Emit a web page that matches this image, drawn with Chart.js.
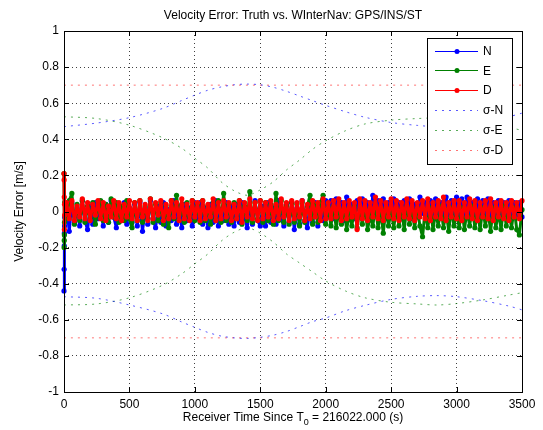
<!DOCTYPE html>
<html>
<head>
<meta charset="utf-8">
<script src="https://cdn.jsdelivr.net/npm/chart.js@4.4.1/dist/chart.umd.min.js"></script>
<style>
  html, body { margin: 0; padding: 0; background: #fff; }
</style>
</head>
<body>
<canvas id="grafico" width="543" height="430"></canvas>
<script>
// ---- dati ----
var titolo = 'Velocity Error: Truth vs. WInterNav: GPS/INS/ST';
var titoloY = 'Velocity Error [m/s]';
var seriesNames = ['N', 'E', 'D', '\u03C3-N', '\u03C3-E', '\u03C3-D'];
var xTicks = [0, 500, 1000, 1500, 2000, 2500, 3000, 3500];
var yTicks = [-1, -0.8, -0.6, -0.4, -0.2, 0, 0.2, 0.4, 0.6, 0.8, 1];

// transient at start (t = 0..5 s)
var startTime = [0, 1, 2, 3, 4, 5];
var nStart = [-0.44, -0.32, -0.19, -0.12, -0.08, -0.03];
var eStart = [0.21, -0.2, -0.16, -0.13, -0.06, 0.05];
var dStart = [0.21, 0.175, 0.08, -0.1, 0.04, -0.02];

// main samples, one every 20 s from 20 to 3500
var sampleStep = 20;
var nMain = [
  0.04,-0.11,0.05,-0.06,0.02,-0.08,0.06,-0.05,-0.10,0.03,-0.07,0.05,-0.04,0.01,-0.08,0.04,-0.06,0.06,-0.03,-0.09,0.03,-0.05,0.05,-0.07,0.02,
  -0.06,0.04,-0.08,0.05,-0.11,0.02,-0.07,0.06,-0.04,-0.09,0.03,-0.06,0.05,-0.08,0.01,-0.05,0.06,-0.07,0.03,-0.09,0.04,-0.05,0.02,-0.08,0.05,
  -0.04,0.05,-0.07,0.02,-0.09,0.04,-0.06,0.06,-0.08,0.01,-0.05,0.05,-0.07,0.03,-0.08,0.04,-0.06,0.05,-0.03,-0.09,0.02,-0.07,0.06,-0.05,-0.08,
  0.03,-0.08,0.05,-0.06,0.02,-0.07,0.06,-0.04,-0.08,0.04,-0.06,0.05,-0.10,0.02,-0.07,0.06,-0.05,-0.09,0.04,-0.06,0.05,-0.08,0.03,-0.05,0.06,
  -0.03,0.06,-0.04,0.07,-0.02,0.05,-0.05,0.08,-0.01,0.04,-0.04,0.06,-0.03,0.07,-0.02,0.05,-0.04,0.09,0.00,0.06,-0.03,0.07,-0.04,0.05,-0.02,
  0.07,-0.03,0.05,-0.04,0.06,-0.02,0.07,-0.04,0.04,-0.03,0.08,-0.01,0.05,-0.04,0.06,-0.02,0.07,-0.03,0.05,-0.04,0.08,-0.02,0.06,-0.03,0.08,
  -0.02,0.07,-0.04,0.08,-0.01,0.05,-0.03,0.07,-0.04,0.06,-0.02,0.07,-0.03,0.05,-0.04,0.06,-0.02,0.05,-0.03,0.06,-0.04,0.05,-0.02,0.05,-0.03
];
var eMain = [
  -0.04,0.06,0.10,-0.07,0.04,-0.05,0.06,-0.06,0.03,-0.04,0.05,-0.07,0.02,0.06,-0.05,0.04,-0.06,0.07,-0.03,0.05,-0.06,0.03,-0.05,0.06,-0.04,
  -0.09,0.05,-0.05,0.06,-0.06,0.03,-0.04,0.07,-0.06,0.04,-0.05,0.05,-0.07,0.03,-0.09,0.06,-0.04,0.09,-0.05,0.04,-0.06,0.05,-0.03,0.06,-0.05,
  0.04,-0.06,0.06,-0.05,0.03,-0.07,0.05,-0.04,0.06,-0.06,0.10,-0.05,0.04,-0.06,0.05,-0.04,0.06,-0.07,0.03,-0.05,0.11,-0.06,0.05,-0.04,0.06,
  -0.06,0.05,-0.05,0.04,-0.07,0.10,-0.05,0.06,-0.06,0.03,-0.07,0.05,-0.06,0.04,-0.08,0.05,-0.06,0.03,0.09,-0.07,0.04,-0.06,0.05,0.09,-0.07,
  0.02,-0.08,0.03,-0.09,0.00,-0.07,0.02,-0.10,-0.01,-0.08,0.03,-0.09,0.01,-0.07,0.02,-0.10,-0.02,-0.08,0.03,-0.09,0.00,-0.12,0.02,-0.08,0.01,
  -0.09,0.02,-0.08,0.01,-0.10,0.03,-0.07,0.00,-0.09,0.02,-0.08,-0.14,0.01,-0.09,0.02,-0.10,0.00,-0.08,0.03,-0.09,0.01,-0.11,0.02,-0.08,0.00,
  -0.09,0.02,-0.10,0.01,-0.08,0.03,-0.09,0.00,-0.10,0.02,-0.08,0.01,-0.11,0.02,-0.09,0.00,-0.10,0.03,-0.08,0.01,-0.09,0.02,-0.10,-0.13,0.01
];
var dMain = [
  0.05,-0.04,0.06,-0.05,0.03,-0.03,0.07,-0.04,0.05,-0.05,0.04,-0.02,0.06,-0.04,0.05,-0.05,0.03,-0.03,0.06,-0.04,0.05,-0.05,0.04,-0.03,0.06,
  -0.04,0.05,-0.05,0.06,-0.03,0.04,-0.05,0.07,-0.04,0.05,-0.02,0.06,-0.05,0.04,-0.04,0.06,-0.03,0.05,-0.05,0.07,-0.04,0.04,-0.05,0.06,-0.03,
  0.05,-0.05,0.06,-0.04,0.04,-0.03,0.07,-0.05,0.05,-0.04,0.06,-0.03,0.05,-0.05,0.04,-0.04,0.06,-0.06,0.05,-0.03,0.07,-0.04,0.05,-0.05,0.06,
  -0.04,0.05,-0.03,0.06,-0.05,0.04,-0.04,0.07,-0.03,0.05,-0.05,0.06,-0.04,0.05,-0.03,0.06,-0.05,0.04,-0.04,0.06,-0.03,0.05,-0.05,0.07,-0.04,
  0.05,-0.04,0.06,-0.03,0.07,-0.05,0.05,-0.04,0.06,-0.03,0.05,-0.10,0.07,-0.04,0.06,-0.05,0.05,-0.03,0.08,-0.04,0.06,-0.05,0.05,-0.03,0.07,
  -0.04,0.06,-0.05,0.05,-0.03,0.07,-0.04,0.06,-0.05,0.05,-0.03,0.06,-0.04,0.07,-0.05,0.05,-0.03,0.06,-0.04,0.08,-0.05,0.05,-0.03,0.06,-0.04,
  0.06,-0.05,0.05,-0.03,0.07,-0.04,0.06,-0.05,0.05,-0.03,0.06,-0.04,0.07,-0.05,0.05,-0.03,0.06,-0.04,0.05,-0.05,0.06,-0.03,0.05,-0.04,0.06
];

// 1-sigma envelopes
var sigmaTime = [0, 250, 500, 750, 900, 1000, 1100, 1200, 1300, 1400, 1500, 1600, 1700, 1800, 1900, 2000, 2150, 2300, 2500, 2700, 2850, 3000, 3200, 3400, 3500];
var sigmaNUp  = [0.47, 0.49, 0.52, 0.57, 0.615, 0.645, 0.672, 0.69, 0.702, 0.706, 0.702, 0.688, 0.666, 0.64, 0.614, 0.588, 0.553, 0.522, 0.493, 0.477, 0.47, 0.472, 0.494, 0.525, 0.545];
var sigmaNLow = [-0.472, -0.481, -0.518, -0.566, -0.612, -0.642, -0.67, -0.69, -0.7, -0.703, -0.697, -0.685, -0.665, -0.638, -0.61, -0.59, -0.55, -0.52, -0.487, -0.47, -0.466, -0.472, -0.494, -0.524, -0.545];
var sigmaEUp  = [0.525, 0.515, 0.478, 0.41, 0.35, 0.295, 0.24, 0.165, 0.115, 0.09, 0.12, 0.165, 0.23, 0.285, 0.345, 0.392, 0.447, 0.485, 0.506, 0.515, 0.518, 0.51, 0.49, 0.465, 0.45];
var sigmaELow = [-0.518, -0.512, -0.478, -0.41, -0.345, -0.29, -0.235, -0.165, -0.115, -0.09, -0.12, -0.17, -0.235, -0.285, -0.335, -0.385, -0.44, -0.478, -0.503, -0.512, -0.518, -0.51, -0.49, -0.463, -0.45];
var sigmaDTime = [0, 3500];
var sigmaDUp  = [0.7, 0.7];
var sigmaDLow = [-0.7, -0.7];

// ---- preparo i dati ----
var mainTime = [];
for (var t = sampleStep; t <= 3500; t += sampleStep) mainTime.push(t);

function toPoints(times, values) {
  return values.map(function(v, i) { return { x: times[i], y: v }; });
}

var blu = '#0000ff', verde = '#008000', rosso = '#ff0000';
var fontName = '"Liberation Sans", Arial, Helvetica, sans-serif';

function serie(label, times, values, colore, ordine) {
  return {
    label: label,
    data: toPoints(times, values),
    borderColor: colore,
    backgroundColor: colore,
    borderWidth: 3,
    borderJoinStyle: 'round',
    borderCapStyle: 'round',
    pointRadius: 2.6,
    pointBorderWidth: 0,
    pointBackgroundColor: colore,
    clip: false,
    order: ordine
  };
}

function sigma(label, times, values, colore) {
  return {
    label: label,
    data: toPoints(times, values),
    borderColor: colore,
    borderWidth: 1,
    borderDash: [2, 5],
    pointRadius: 0,
    tension: 0.3,
    order: 5
  };
}

var datasets = [
  serie('N', startTime.concat(mainTime), nStart.concat(nMain), blu, 2),
  serie('E', startTime.concat(mainTime), eStart.concat(eMain), verde, 1),
  serie('D', startTime.concat(mainTime), dStart.concat(dMain), rosso, 0),
  sigma('sN+', sigmaTime, sigmaNUp, 'rgba(0,0,255,0.65)'),
  sigma('sN-', sigmaTime, sigmaNLow, 'rgba(0,0,255,0.65)'),
  sigma('sE+', sigmaTime, sigmaEUp, 'rgba(0,128,0,0.65)'),
  sigma('sE-', sigmaTime, sigmaELow, 'rgba(0,128,0,0.65)'),
  sigma('sD+', sigmaDTime, sigmaDUp, 'rgba(255,0,0,0.55)'),
  sigma('sD-', sigmaDTime, sigmaDLow, 'rgba(255,0,0,0.55)')
];

// legenda: stile di ogni voce
var legendStyles = [
  { color: blu, dash: [], marker: true },
  { color: verde, dash: [], marker: true },
  { color: rosso, dash: [], marker: true },
  { color: 'rgba(0,0,255,0.65)', dash: [2, 5], marker: false },
  { color: 'rgba(0,128,0,0.65)', dash: [2, 5], marker: false },
  { color: 'rgba(255,0,0,0.55)', dash: [2, 5], marker: false }
];

// ---- plugin: cornice, tacche interne, titoli, legenda ----
var decorPlugin = {
  id: 'decor',
  afterDraw: function(chart) {
    var ctx = chart.ctx, a = chart.chartArea;
    var xs = chart.scales.x, ys = chart.scales.y;
    ctx.save();
    ctx.strokeStyle = '#000';
    ctx.lineWidth = 1;
    ctx.setLineDash([]);

    // tacche verso l'interno
    ctx.beginPath();
    xTicks.forEach(function(v) {
      var px = Math.round(xs.getPixelForValue(v)) + 0.5;
      ctx.moveTo(px, a.bottom); ctx.lineTo(px, a.bottom - 5);
      ctx.moveTo(px, a.top); ctx.lineTo(px, a.top + 5);
    });
    yTicks.forEach(function(v) {
      var py = Math.round(ys.getPixelForValue(v)) + 0.5;
      ctx.moveTo(a.left, py); ctx.lineTo(a.left + 5, py);
      ctx.moveTo(a.right, py); ctx.lineTo(a.right - 5, py);
    });
    ctx.stroke();

    // cornice
    ctx.strokeRect(Math.round(a.left) + 0.5, Math.round(a.top) + 0.5,
      Math.round(a.right - a.left), Math.round(a.bottom - a.top));

    // titolo
    ctx.fillStyle = '#000';
    ctx.font = '12px ' + fontName;
    ctx.textAlign = 'center';
    ctx.textBaseline = 'alphabetic';
    var cx = (a.left + a.right) / 2;
    ctx.fillText(titolo, cx, 19);

    // titolo asse x con pedice
    var p1 = 'Receiver Time Since T', sub = '0', p2 = ' = 216022.000 (s)';
    ctx.font = '12px ' + fontName;
    var w1 = ctx.measureText(p1).width, w2 = ctx.measureText(p2).width;
    ctx.font = '9px ' + fontName;
    var ws = ctx.measureText(sub).width;
    var x0 = cx - (w1 + ws + w2) / 2;
    ctx.textAlign = 'left';
    ctx.font = '12px ' + fontName;
    ctx.fillText(p1, x0, 421);
    ctx.font = '9px ' + fontName;
    ctx.fillText(sub, x0 + w1, 425);
    ctx.font = '12px ' + fontName;
    ctx.fillText(p2, x0 + w1 + ws, 421);

    // titolo asse y
    ctx.save();
    ctx.translate(20, (a.top + a.bottom) / 2);
    ctx.rotate(-Math.PI / 2);
    ctx.textAlign = 'center';
    ctx.textBaseline = 'middle';
    ctx.fillText(titoloY, 0, 0);
    ctx.restore();

    // legenda
    var lx = 427, ly = 38, lw = 85, lh = 126;
    ctx.fillStyle = '#fff';
    ctx.fillRect(lx, ly, lw, lh);
    ctx.strokeStyle = '#000';
    ctx.strokeRect(lx + 0.5, ly + 0.5, lw, lh);
    seriesNames.forEach(function(name, i) {
      var st = legendStyles[i];
      var y = ly + 12.5 + i * 19.8;
      ctx.strokeStyle = st.color;
      ctx.setLineDash(st.dash);
      ctx.beginPath();
      ctx.moveTo(435, Math.round(y) + 0.5);
      ctx.lineTo(478, Math.round(y) + 0.5);
      ctx.stroke();
      ctx.setLineDash([]);
      if (st.marker) {
        ctx.fillStyle = st.color;
        ctx.beginPath();
        ctx.arc(457, Math.round(y) + 0.5, 2.5, 0, Math.PI * 2);
        ctx.fill();
      }
      ctx.fillStyle = '#000';
      ctx.font = '12px ' + fontName;
      ctx.textAlign = 'left';
      ctx.textBaseline = 'middle';
      ctx.fillText(name, 483, y + 1);
    });
    ctx.restore();
  }
};

var grafico = new Chart(document.getElementById('grafico'), {
  type: 'line',
  data: { datasets: datasets },
  plugins: [decorPlugin],
  options: {
    responsive: false,
    animation: false,
    devicePixelRatio: 1,
    layout: { padding: { top: 31, right: 21, left: 0, bottom: 0 } },
    plugins: {
      legend: { display: false },
      tooltip: { enabled: false },
      title: { display: false }
    },
    scales: {
      x: {
        type: 'linear',
        min: 0,
        max: 3500,
        afterFit: function(scale) { scale.height = 38; },
        afterBuildTicks: function(scale) { scale.ticks = xTicks.map(function(v) { return { value: v }; }); },
        grid: { color: 'rgba(0,0,0,0.75)', lineWidth: 1, drawTicks: false },
        border: { display: false, dash: [1, 3] },
        ticks: {
          color: '#000',
          font: { family: fontName, size: 12 },
          padding: 5,
          maxRotation: 0,
          callback: function(v) { return String(v); }
        }
      },
      y: {
        type: 'linear',
        min: -1,
        max: 1,
        afterFit: function(scale) { scale.width = 64; },
        afterBuildTicks: function(scale) { scale.ticks = yTicks.map(function(v) { return { value: v }; }); },
        grid: { color: 'rgba(0,0,0,0.75)', lineWidth: 1, drawTicks: false },
        border: { display: false, dash: [1, 3] },
        ticks: {
          color: '#000',
          font: { family: fontName, size: 12 },
          padding: 5,
          callback: function(v) { return String(+Number(v).toFixed(1)); }
        }
      }
    }
  }
});
</script>
</body>
</html>
